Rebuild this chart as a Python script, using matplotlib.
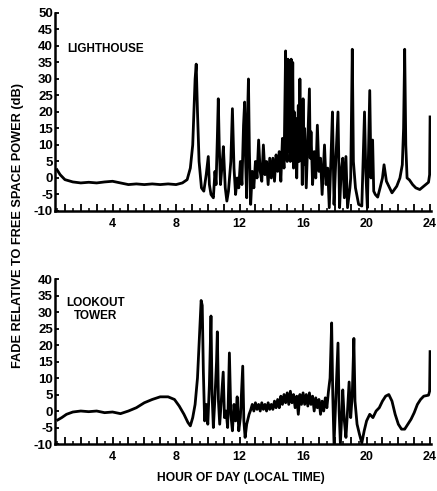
import matplotlib

matplotlib.use("Agg")
import matplotlib.pyplot as plt
from matplotlib.ticker import MultipleLocator

# (hour of day, fade dB)
lighthouse_points = [
    (0.5, 2.5), (0.7, 1.0), (1.0, -0.5), (1.5, -1.2), (2.0, -1.5), (2.5, -1.3),
    (3.0, -1.5), (3.5, -1.2), (4.0, -1.0), (4.5, -1.5), (5.0, -2.0), (5.5, -1.8),
    (6.0, -2.0), (6.5, -1.8), (7.0, -2.0), (7.5, -1.8), (8.0, -2.0), (8.4, -1.5),
    (8.7, -0.5), (8.9, 3), (9.05, 10), (9.2, 30), (9.27, 34.5), (9.35, 20),
    (9.45, 5), (9.6, -3), (9.75, -4), (9.9, 1), (10.03, 6.5), (10.1, -2),
    (10.2, -5), (10.35, -6), (10.45, 2), (10.52, -2), (10.6, 12), (10.66, 24),
    (10.72, 10), (10.8, -2), (10.9, 4), (10.98, 9.5), (11.1, -3), (11.2, -7),
    (11.3, -4), (11.45, 5), (11.55, 21), (11.65, 3), (11.75, -5), (11.85, 0),
    (11.95, -3), (12.05, 5), (12.15, -2), (12.25, 16), (12.32, 23), (12.38, 5),
    (12.45, -6), (12.5, 18), (12.56, 30), (12.62, 8), (12.7, -8), (12.8, 2),
    (12.9, -3), (13.0, 5), (13.1, 0), (13.2, 11.5), (13.3, 2), (13.4, -1),
    (13.5, 10), (13.6, 1), (13.7, 5), (13.8, -2), (13.9, 6), (14.0, 0),
    (14.1, 6), (14.2, -1), (14.3, 7), (14.4, 2), (14.5, 8), (14.6, -1),
    (14.7, 12), (14.8, 3), (14.9, 38.5), (14.95, 10), (15.0, 5), (15.05, 36),
    (15.1, 8), (15.15, 35), (15.2, 5), (15.25, 36), (15.3, 12), (15.35, 35),
    (15.4, 3), (15.45, 20), (15.5, 6), (15.55, 18), (15.6, 0), (15.7, 22),
    (15.75, 5), (15.8, 30), (15.85, 8), (15.9, 15), (15.95, -2), (16.0, 24),
    (16.05, 4), (16.1, 15), (16.2, -3), (16.3, 12), (16.4, 27), (16.45, 6),
    (16.5, 14), (16.6, -2), (16.7, 8), (16.8, 0), (16.9, 16), (17.0, 2),
    (17.1, 6), (17.2, -5), (17.35, 10), (17.45, -2), (17.55, 3), (17.65, -9),
    (17.75, 5), (17.85, 20), (17.95, -8), (18.05, 4), (18.2, 20), (18.3, -9),
    (18.4, 2), (18.5, 6), (18.6, -6), (18.7, 6.5), (18.8, -9), (18.95, -3),
    (19.0, 0), (19.05, 20), (19.1, 39), (19.17, 5), (19.3, -3), (19.5, -8),
    (19.7, -8.5), (19.82, 12), (19.87, 20), (19.95, 2), (20.05, -9), (20.15, 15),
    (20.2, 26.5), (20.28, 0), (20.38, 11.5), (20.45, -4), (20.55, -5), (20.7, -5.8),
    (20.85, -3), (21.0, 0), (21.1, 4), (21.25, -1), (21.6, -4.5), (21.9, -2.5),
    (22.1, 0), (22.25, 4), (22.33, 15), (22.4, 39), (22.47, 10), (22.55, 0),
    (22.7, -0.6), (22.9, -2), (23.1, -3), (23.35, -3.5), (23.6, -2.5), (23.9, -1.3),
    (23.97, 1), (24.0, 18.5),
]

# (hour of day, fade dB)
tower_points = [
    (0.55, -2.7), (0.8, -2.0), (1.1, -1.0), (1.5, -0.3), (2.0, 0), (2.5, -0.2),
    (3.0, 0), (3.5, -0.5), (4.0, -0.3), (4.5, -0.8), (5.0, 0), (5.5, 1),
    (6.0, 2.5), (6.5, 3.5), (7.0, 4.3), (7.5, 4.3), (7.9, 3.5), (8.2, 1.5),
    (8.5, -1), (8.75, -3.5), (8.9, -4.5), (9.05, -2), (9.2, 2), (9.35, 10),
    (9.5, 25), (9.58, 33.5), (9.65, 32), (9.72, 12), (9.8, -3), (9.9, 2),
    (10.0, -4), (10.1, 8), (10.2, 28.8), (10.27, 5), (10.35, -5), (10.45, 4),
    (10.55, 15), (10.6, 24), (10.67, 3), (10.75, -4), (10.85, 3), (10.97, 11.8),
    (11.05, -2), (11.15, 0), (11.25, -5), (11.36, 17.6), (11.45, -1), (11.55, -6),
    (11.65, 2), (11.75, -3), (11.85, 4.3), (11.95, -6), (12.05, -2), (12.2, 13.6),
    (12.27, -3), (12.35, -8), (12.45, -4), (12.6, -1), (12.7, 0.3), (12.8, 2),
    (12.9, 0), (13.0, 2.5), (13.1, 0.5), (13.2, 2), (13.3, 0), (13.4, 2.5),
    (13.5, 0.5), (13.6, 2), (13.7, 0), (13.8, 2.5), (13.9, 0.5), (14.0, 2),
    (14.1, 0.5), (14.2, 3), (14.3, 1), (14.4, 3.5), (14.5, 1), (14.6, 4.5),
    (14.7, 2), (14.8, 5), (14.9, 2.5), (15.0, 5.5), (15.1, 2), (15.2, 6),
    (15.3, 2.5), (15.4, 5), (15.5, 1), (15.6, 4.5), (15.7, -1), (15.8, 5),
    (15.9, 2), (16.0, 5.5), (16.1, 2), (16.2, 5), (16.3, 1.5), (16.4, 5.5),
    (16.5, 2), (16.6, 4.5), (16.7, 0), (16.8, 4), (16.9, 1), (17.0, 3.5),
    (17.1, -1), (17.2, 3), (17.3, 0), (17.4, 4), (17.5, 1), (17.6, 6),
    (17.7, 10), (17.8, 26.7), (17.87, 5), (17.95, -10), (18.05, 2), (18.2, 20.6),
    (18.27, 0), (18.35, -10), (18.45, 0), (18.5, 6.4), (18.6, -3), (18.7, -8),
    (18.8, 0), (18.9, 8.8), (19.0, -2), (19.1, 5), (19.2, 22), (19.27, 3),
    (19.4, -4), (19.55, -7), (19.7, -9.7), (19.85, -6), (20.0, -3), (20.2, -1),
    (20.4, -2), (20.6, 0), (20.8, 1), (21.0, 3), (21.2, 4.5), (21.4, 5),
    (21.6, 3), (21.8, -1), (22.0, -4), (22.2, -5.5), (22.4, -5.5), (22.6, -4),
    (22.8, -2.5), (23.0, -0.5), (23.2, 2), (23.4, 3.5), (23.6, 4.5), (23.9, 4.8),
    (23.97, 6), (24.0, 18),
]

panel_names = ["LIGHTHOUSE", "LOOKOUT\nTOWER"]
panel_tops = [50, 40]
hour_labels = {4: "4", 8: "8", 12: "12", 16: "16", 20: "20", 24: "24"}

plt.rcParams["font.family"] = ["Liberation Sans", "DejaVu Sans"]
plt.rcParams["font.weight"] = "bold"
plt.rcParams["axes.unicode_minus"] = False

fig = plt.figure(figsize=(4.37, 4.91), dpi=100)
boxes = [
    [0.126, 0.5703, 0.860, 0.4033],
    [0.126, 0.0957, 0.860, 0.3360],
]

for name, points, top, box in zip(panel_names, [lighthouse_points, tower_points],
                                  panel_tops, boxes):
    hours, db = zip(*points)
    ax = fig.add_axes(box)
    ax.plot(hours, db, color="black", lw=2.0)
    ax.set_xlim(0.38, 24.05)
    ax.set_ylim(-10, top)
    for side in ("top", "right"):
        ax.spines[side].set_visible(False)
    for side in ("left", "bottom"):
        ax.spines[side].set_linewidth(1.8)

    yt = list(range(-10, top + 1, 5))
    ax.set_yticks(yt)
    ax.set_yticklabels([str(v) for v in yt], fontsize=9.5, fontweight="bold")
    xt = list(range(1, 25))
    ax.set_xticks(xt)
    ax.set_xticklabels([hour_labels.get(h, "") for h in xt], fontsize=9,
                       fontweight="bold")
    ax.xaxis.set_minor_locator(MultipleLocator(0.5))
    ax.tick_params(axis="x", which="major", direction="in", length=5, width=1.3, pad=5)
    ax.tick_params(axis="x", which="minor", direction="in", length=2.5, width=1.1)
    ax.tick_params(axis="y", direction="in", length=3, width=1.3, pad=1.5)

    if "\n" in name:
        ax.text(2.9, 0.815, name, transform=ax.get_xaxis_transform(), ha="center",
                va="center", fontsize=8.5, fontweight="bold", linespacing=1.05)
    else:
        ax.text(1.15, 0.82, name, transform=ax.get_xaxis_transform(), ha="left",
                va="center", fontsize=8.5, fontweight="bold")

fig.text(0.041, 0.54, "FADE RELATIVE TO FREE SPACE POWER (dB)", rotation=90,
         ha="center", va="center", fontsize=9.2, fontweight="bold")
fig.text(0.552, 0.026, "HOUR OF DAY (LOCAL TIME)", ha="center", va="center",
         fontsize=8.7, fontweight="bold")

fig.savefig("out.png", dpi=100)
